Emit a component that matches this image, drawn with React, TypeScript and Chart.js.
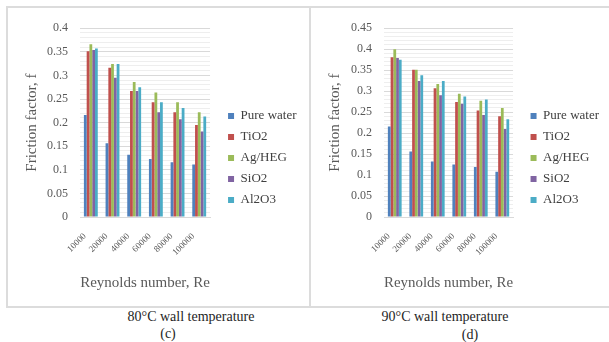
import React, { useEffect, useRef } from "react";
import { Chart, registerables } from "chart.js";

Chart.register(...registerables);

// ---- Data ----
const reynolds = ["10000", "20000", "40000", "60000", "80000", "100000"];
const seriesNames = ["Pure water", "TiO2", "Ag/HEG", "SiO2", "Al2O3"];
const seriesColors = ["#4F81BD", "#C0504D", "#9BBB59", "#8064A2", "#4BACC6"];

// 80°C wall temperature (c)
const pureWater80 = [0.216, 0.156, 0.132, 0.123, 0.116, 0.111];
const tio2_80 = [0.351, 0.316, 0.267, 0.243, 0.222, 0.195];
const agheg80 = [0.366, 0.324, 0.286, 0.264, 0.243, 0.222];
const sio2_80 = [0.354, 0.295, 0.267, 0.222, 0.207, 0.181];
const al2o3_80 = [0.357, 0.324, 0.275, 0.243, 0.231, 0.213];

// 90°C wall temperature (d)
const pureWater90 = [0.216, 0.156, 0.132, 0.125, 0.119, 0.108];
const tio2_90 = [0.381, 0.351, 0.307, 0.274, 0.254, 0.24];
const agheg90 = [0.4, 0.351, 0.317, 0.294, 0.277, 0.26];
const sio2_90 = [0.379, 0.324, 0.29, 0.27, 0.243, 0.21];
const al2o3_90 = [0.375, 0.338, 0.324, 0.287, 0.28, 0.233];

const yMax80 = 0.4;
const yMax90 = 0.45;

const FONT = "'Liberation Serif', 'Times New Roman', serif";
const TEXT = "#595959";

const isMajor = (v: number) => Math.abs(v / 0.05 - Math.round(v / 0.05)) < 1e-6;
const fmt = (v: number) => String(Number(v.toFixed(2)));

interface PanelSpec {
  values: number[][];
  max: number;
  padRight: number;
  gap: number;
  yWidth: number;
}

function makeConfig(p: PanelSpec): any {
  return {
    type: "bar",
    data: {
      labels: reynolds,
      datasets: seriesNames.map((name, i) => ({
        label: name,
        data: p.values[i],
        backgroundColor: seriesColors[i],
        borderWidth: 0,
        barPercentage: 1,
        categoryPercentage: 0.64,
        yAxisID: "y",
      })),
    },
    options: {
      animation: false,
      responsive: false,
      maintainAspectRatio: false,
      devicePixelRatio: 1,
      font: { family: FONT },
      layout: { padding: { top: 14, bottom: 13, left: 0, right: p.padRight } },
      plugins: {
        legend: {
          position: "right",
          align: "center",
          maxWidth: 140,
          labels: {
            boxWidth: 6,
            boxHeight: 6,
            padding: 8,
            color: "#404040",
            font: { family: FONT, size: 13 },
          },
        },
        tooltip: { enabled: false },
      },
      scales: {
        x: {
          grid: { display: false, drawTicks: false },
          border: { display: true, color: "#d9d9d9", width: 1 },
          ticks: {
            autoSkip: false,
            maxRotation: 45,
            minRotation: 45,
            padding: 14,
            labelOffset: -6,
            color: TEXT,
            font: { family: FONT, size: 9 },
          },
          title: {
            display: true,
            text: "Reynolds number, Re",
            color: TEXT,
            font: { family: FONT, size: 15 },
            padding: { top: 0, bottom: 1 },
          },
          afterFit: (s: any) => {
            s.height = 76;
          },
        },
        y: {
          position: "left",
          min: 0,
          max: p.max,
          grid: {
            drawTicks: false,
            lineWidth: 1,
            color: (ctx: any) =>
              ctx.tick && !isMajor(ctx.tick.value) ? "#eeeeee" : "#d9d9d9",
          },
          border: { display: false },
          ticks: {
            stepSize: 0.01,
            autoSkip: false,
            padding: 12,
            color: TEXT,
            font: { family: FONT, size: 12 },
            callback: (v: any) => (isMajor(Number(v)) ? fmt(Number(v)) : ""),
          },
          title: {
            display: true,
            text: "Friction factor, f",
            color: TEXT,
            font: { family: FONT, size: 15 },
            padding: { top: 14, bottom: 0 },
          },
          afterFit: (s: any) => {
            s.width = p.yWidth;
          },
        },
        yGap: {
          type: "linear",
          position: "right",
          display: true,
          grid: { display: false, drawTicks: false },
          border: { display: false },
          ticks: { display: false },
          afterFit: (s: any) => {
            s.width = p.gap;
          },
        },
      },
    },
  };
}

const panel80: PanelSpec = {
  values: [pureWater80, tio2_80, agheg80, sio2_80, al2o3_80],
  max: yMax80,
  padRight: 2.5,
  gap: 10,
  yWidth: 71,
};

const panel90: PanelSpec = {
  values: [pureWater90, tio2_90, agheg90, sio2_90, al2o3_90],
  max: yMax90,
  padRight: 0,
  gap: 9.5,
  yWidth: 72,
};

function Line(props: { left: number; top: number; width: number; height: number }) {
  return (
    <div
      style={{
        position: "absolute",
        left: props.left,
        top: props.top,
        width: props.width,
        height: props.height,
        background: "#dcdcdc",
      }}
    />
  );
}

function Caption(props: { text: string; cx: number; top: number }) {
  return (
    <div
      style={{
        position: "absolute",
        left: props.cx - 120,
        width: 240,
        top: props.top,
        textAlign: "center",
        fontFamily: FONT,
        fontSize: 14,
        lineHeight: "16px",
        color: "#1e1e1e",
        whiteSpace: "nowrap",
      }}
    >
      {props.text}
    </div>
  );
}

export default function App() {
  const leftRef = useRef<HTMLCanvasElement>(null);
  const rightRef = useRef<HTMLCanvasElement>(null);

  useEffect(() => {
    const charts: Chart[] = [];
    if (leftRef.current) charts.push(new Chart(leftRef.current, makeConfig(panel80)));
    if (rightRef.current) charts.push(new Chart(rightRef.current, makeConfig(panel90)));
    return () => charts.forEach((c) => c.destroy());
  }, []);

  return (
    <div
      style={{
        position: "absolute",
        left: 0,
        top: 0,
        width: 609,
        height: 342,
        background: "#ffffff",
        overflow: "hidden",
      }}
    >
      <canvas
        ref={leftRef}
        width={300}
        height={297}
        style={{ position: "absolute", left: 9, top: 9, width: 300, height: 297 }}
      />
      <canvas
        ref={rightRef}
        width={297}
        height={297}
        style={{ position: "absolute", left: 312, top: 9, width: 297, height: 297 }}
      />
      <Line left={6} top={6} width={603} height={2} />
      <Line left={6} top={306} width={603} height={2} />
      <Line left={6} top={6} width={2} height={302} />
      <Line left={309} top={6} width={2} height={302} />
      <Caption text="80°C wall temperature" cx={191} top={309} />
      <Caption text="(c)" cx={168} top={326} />
      <Caption text="90°C wall temperature" cx={445} top={309} />
      <Caption text="(d)" cx={470} top={327} />
    </div>
  );
}
